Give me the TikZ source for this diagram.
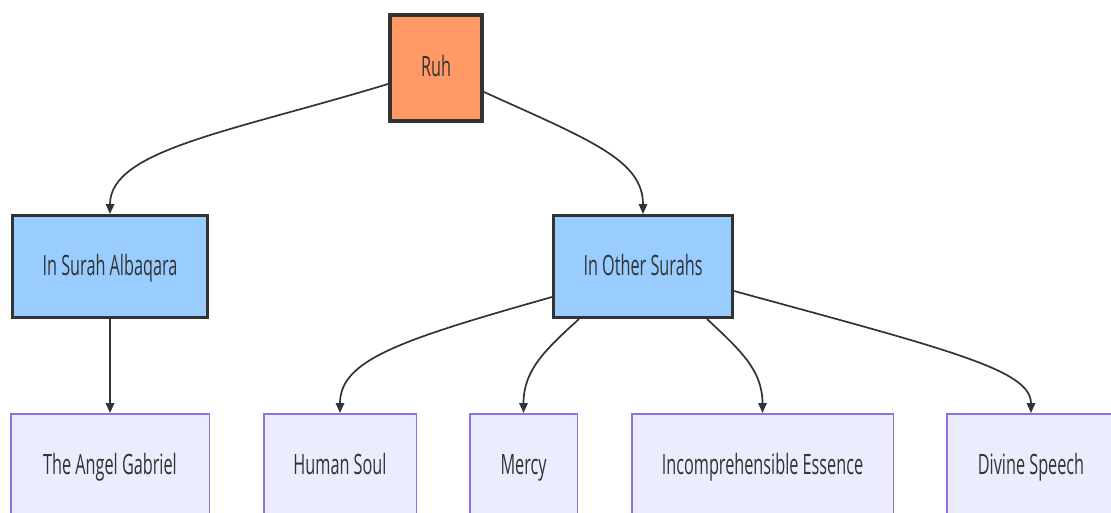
\documentclass[tikz,border=0pt]{standalone}
\usepackage{fontspec}
\newfontfamily\lblfont[FakeStretch=0.58]{Open Sans}
\usetikzlibrary{arrows.meta}
\definecolor{ink}{HTML}{333333}
\definecolor{ruhfill}{HTML}{FF9966}
\definecolor{midfill}{HTML}{99CCFF}
\definecolor{leaffill}{HTML}{ECECFF}
\definecolor{leafline}{HTML}{9370DB}
\begin{document}
\begin{tikzpicture}[x=1pt,y=-1pt,
  base/.style={draw=ink, text=ink, font=\lblfont\fontsize{28}{32}\selectfont, inner sep=0pt, rectangle, text height=20pt, text depth=3pt},
  root/.style={base, fill=ruhfill, line width=4pt, minimum width=92pt, minimum height=106pt},
  mid/.style={base, fill=midfill, line width=3pt, minimum height=102pt},
  leaf/.style={base, draw=leafline, fill=leaffill, line width=1.5pt, minimum height=104.5pt},
  link/.style={draw=ink, line width=1.7pt, -{Triangle[length=10pt,width=8.5pt]}}]
\useasboundingbox (0,0) rectangle (1111,512);
\node[root] (ruh) at (436,68) {Ruh};
\node[mid, minimum width=195pt] (alb) at (110,266.5) {In Surah Albaqara};
\node[mid, minimum width=179pt] (oth) at (643,266.5) {In Other Surahs};
\node[leaf, minimum width=198.5pt] (gab) at (110,466) {The Angel Gabriel};
\node[leaf, minimum width=152.5pt] (soul) at (340,466) {Human Soul};
\node[leaf, minimum width=107.5pt] (mercy) at (523.5,466) {Mercy};
\node[leaf, minimum width=261.5pt] (ess) at (762.5,466) {Incomprehensible Essence};
\node[leaf, minimum width=168.5pt] (div) at (1031,466) {Divine Speech};
\draw[link] ([yshift=-16pt]ruh.west) .. controls (230,132) and (110,150) .. (alb.north);
\draw[link] ([yshift=-24pt]ruh.east) .. controls (590,140) and (643,160) .. (oth.north);
\draw[link] (alb) -- (gab);
\draw[link] ([yshift=-30.5pt]oth.west) .. controls (400,340) and (340,360) .. (soul.north);
\draw[link] ([xshift=-64pt]oth.south) .. controls (545,350) and (523.5,370) .. (mercy.north);
\draw[link] ([xshift=64pt]oth.south) .. controls (740,350) and (762.5,370) .. (ess.north);
\draw[link] ([yshift=-24.5pt]oth.east) .. controls (950,350) and (1031,370) .. (div.north);
\end{tikzpicture}
\end{document}
